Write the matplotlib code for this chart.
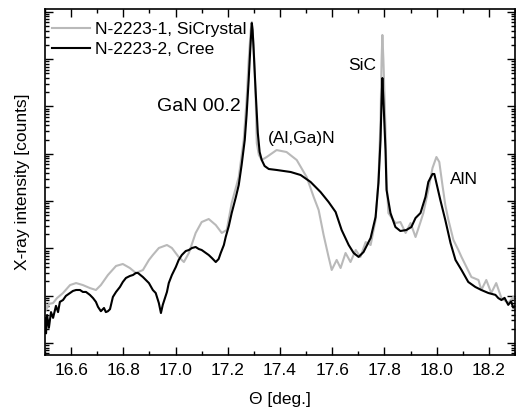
import matplotlib
matplotlib.use("Agg")
import matplotlib.pyplot as plt
from matplotlib.ticker import LogLocator, MultipleLocator, NullFormatter
import numpy as np

plt.rcParams['font.family'] = ['Liberation Sans', 'DejaVu Sans']

# N-2223-2, Cree (black)
theta_cree = [16.500, 16.504, 16.508, 16.515, 16.523, 16.531, 16.542, 16.550, 16.557, 16.569,
              16.580, 16.596, 16.607, 16.619, 16.634, 16.645, 16.657, 16.672, 16.684, 16.695,
              16.703, 16.714, 16.726, 16.733, 16.741, 16.749, 16.760, 16.772, 16.787, 16.798,
              16.810, 16.825, 16.837, 16.848, 16.856, 16.875, 16.898, 16.913, 16.924, 16.936,
              16.944, 16.951, 16.967, 16.974, 16.986, 17.001, 17.012, 17.024, 17.039, 17.051,
              17.063, 17.077, 17.089, 17.100, 17.116, 17.127, 17.139, 17.154, 17.165, 17.173,
              17.185, 17.192, 17.204, 17.215, 17.231, 17.242, 17.253, 17.265, 17.272, 17.280,
              17.286, 17.292, 17.295, 17.299, 17.307, 17.315, 17.322, 17.330, 17.341, 17.357,
              17.387, 17.441, 17.479, 17.517, 17.555, 17.586, 17.613, 17.636, 17.663, 17.682,
              17.701, 17.720, 17.747, 17.766, 17.777, 17.785, 17.789, 17.792, 17.796, 17.804,
              17.808, 17.823, 17.842, 17.861, 17.884, 17.903, 17.919, 17.938, 17.957, 17.968,
              17.984, 17.991, 17.999, 18.014, 18.033, 18.053, 18.072, 18.095, 18.121, 18.148,
              18.171, 18.198, 18.225, 18.236, 18.248, 18.260, 18.274, 18.285, 18.293, 18.300]
counts_cree = [3.4, 1.6, 3.9, 2.1, 4.5, 3.4, 6.1, 4.5, 7.4, 8.1,
               9.9, 11.4, 12.6, 13.2, 13.2, 12.0, 12.0, 10.4, 8.9, 7.4,
               5.8, 4.7, 5.5, 4.5, 4.7, 5.2, 9.4, 12.0, 15.3, 19.5,
               23.7, 26.1, 27.4, 30.2, 30.2, 24.8, 18.5, 13.2, 11.4, 7.0,
               4.3, 6.4, 12.0, 18.5, 27.4, 40.4, 56.9, 72.5, 88, 92.5,
               102, 107, 97, 92.5, 80, 72.5, 62.7, 51.5, 59.7, 80,
               118, 174, 298, 560, 1220, 2190, 5800, 19600, 66100, 363000,
               1.57e6, 5.8e6, 4.14e6, 1.57e6, 1.93e5, 2.75e4, 1.09e4, 7390, 5520, 4770,
               4550, 4120, 3560, 2540, 1560, 958, 588, 245, 118, 80,
               66, 84, 166, 461, 2415, 19600, 1.37e5, 4.0e5, 1.37e5, 12000,
               1720, 560, 283, 233, 245, 283, 439, 560, 1220, 2540,
               3740, 3740, 2415, 1055, 398, 130, 57, 35, 19.5, 15.3,
               13.2, 11.4, 10.4, 8.9, 8.1, 9.0, 6.4, 7.6, 5.6, 6.0]

# N-2223-1, SiCrystal (gray)
theta_sicrystal = [16.500, 16.504, 16.515, 16.531, 16.546, 16.569, 16.596, 16.619, 16.645, 16.672,
                   16.695, 16.714, 16.741, 16.772, 16.798, 16.825, 16.848, 16.875, 16.898, 16.913,
                   16.936, 16.967, 16.986, 17.012, 17.032, 17.051, 17.077, 17.100, 17.127, 17.154,
                   17.177, 17.196, 17.215, 17.242, 17.261, 17.272, 17.280, 17.288, 17.292, 17.299,
                   17.307, 17.311, 17.319, 17.330, 17.349, 17.387, 17.425, 17.464, 17.502, 17.529,
                   17.548, 17.567, 17.586, 17.598, 17.617, 17.632, 17.651, 17.670, 17.690, 17.708,
                   17.728, 17.747, 17.766, 17.777, 17.785, 17.789, 17.792, 17.796, 17.804, 17.808,
                   17.815, 17.842, 17.861, 17.881, 17.900, 17.919, 17.938, 17.949, 17.968, 17.984,
                   17.999, 18.010, 18.022, 18.033, 18.045, 18.064, 18.083, 18.095, 18.114, 18.133,
                   18.160, 18.171, 18.190, 18.209, 18.228, 18.248, 18.274, 18.293, 18.300]
counts_sicrystal = [8.1, 5.0, 6.7, 7.0, 8.9, 11.4, 16.8, 18.5, 16.8, 14.5,
                    13.2, 16.8, 27.4, 42.5, 46.8, 38.5, 30.2, 34.9, 56.9, 72.5,
                    102, 118, 102, 65.8, 51.5, 80, 212, 361, 418, 312,
                    212, 245, 912, 3230, 19600, 1.37e5, 9.6e5, 4.14e6, 6.1e6, 2.0e6,
                    1.37e5, 16900, 9440, 7390, 8550, 12000, 10900, 7390, 3230, 1220,
                    648, 192, 66, 35, 57, 38.5, 80, 51.5, 92.5, 66,
                    136, 118, 398, 2790, 51900, 9.6e5, 3.25e6, 9.6e5, 31800, 2790,
                    560, 344, 361, 212, 344, 174, 361, 560, 1720, 5010,
                    8550, 6710, 2190, 828, 398, 151, 92.5, 66, 40.4, 24.8,
                    21.5, 13.2, 21.5, 11.4, 18.5, 8.9, 7.0, 9.4, 8.1]

fig = plt.figure(figsize=(5.16, 4.12), dpi=100)
ax = fig.add_axes([0.0872, 0.1383, 0.9109, 0.8398])

ax.plot(theta_sicrystal, counts_sicrystal, color='#b9b9b9', lw=1.5, label='N-2223-1, SiCrystal')
ax.plot(theta_cree, counts_cree, color='black', lw=1.5, label='N-2223-2, Cree')

ax.set_yscale('log')
ax.set_xlim(16.5, 18.3)
ax.set_ylim(0.557, 1.15e7)

ax.xaxis.set_major_locator(MultipleLocator(0.2))
ax.xaxis.set_minor_locator(MultipleLocator(0.1))
ax.yaxis.set_major_locator(LogLocator(base=10, numticks=100))
ax.yaxis.set_minor_locator(LogLocator(base=10, subs=np.arange(2, 10), numticks=100))
ax.yaxis.set_major_formatter(NullFormatter())
ax.yaxis.set_minor_formatter(NullFormatter())
ax.tick_params(which='both', direction='in', top=True, right=True, labelsize=12.5)
ax.tick_params(which='major', length=6, width=1, pad=6)
ax.tick_params(which='minor', length=3, width=1)
for s in ax.spines.values():
    s.set_linewidth(1.2)

ax.set_xlabel('Θ [deg.]', fontsize=12.5, labelpad=10)
ax.set_ylabel('X-ray intensity [counts]', fontsize=12.5, labelpad=5)

ax.text(17.089, 9.8e4, 'GaN 00.2', fontsize=14, ha='center', va='center')
ax.text(17.483, 2.06e4, '(Al,Ga)N', fontsize=12.5, ha='center', va='center')
ax.text(17.714, 7.2e5, 'SiC', fontsize=12.5, ha='center', va='center')
ax.text(18.106, 2930, 'AlN', fontsize=12.5, ha='center', va='center')

ax.legend(loc='upper left', frameon=False, fontsize=12.5, handlelength=2.2,
          handletextpad=0.3, labelspacing=0.3, borderaxespad=0, borderpad=0,
          bbox_to_anchor=(0.015, 0.964))

fig.savefig('out.png', dpi=100)
